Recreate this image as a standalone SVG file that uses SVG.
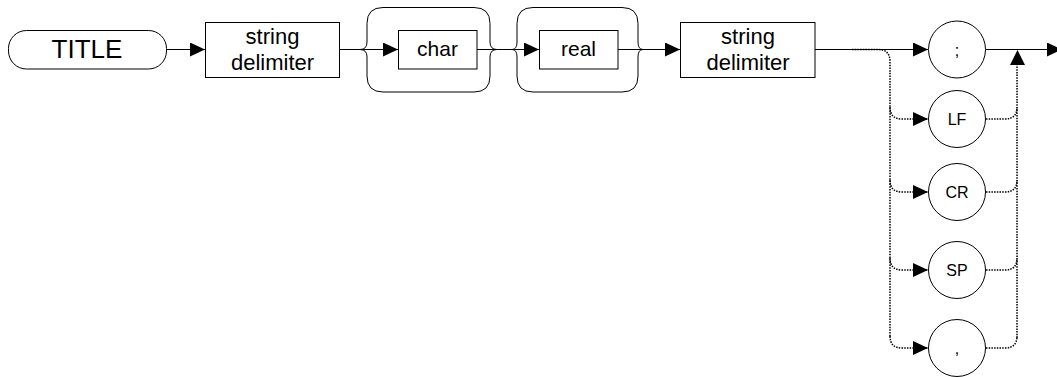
<svg xmlns="http://www.w3.org/2000/svg" width="1057" height="377" viewBox="0 0 1057 377">
<style>
.shape{fill:#fff;stroke:#000;stroke-width:1}
.brace{fill:none;stroke:#000;stroke-width:1}
.t{font-family:"Liberation Sans",Arial,sans-serif;fill:#000;text-anchor:middle}
.line{fill:none;stroke:#000;stroke-width:1}
.dot{fill:none;stroke:#000;stroke-width:1.5;stroke-dasharray:1.5 1.2}
</style>
<defs>
<marker id="arr" markerUnits="userSpaceOnUse" markerWidth="15" markerHeight="14" viewBox="0 0 15 14" refX="15" refY="7" orient="auto">
<path d="M0,0 L15,7 L0,14 Z" fill="#000"/>
</marker>
</defs>
<g id="connectors">
<path class="line" d="M166,49.5 H205" marker-end="url(#arr)"/>
<path class="line" d="M339,49.5 H360"/>
<path class="line" d="M360,49.5 H398" marker-end="url(#arr)"/>
<path class="line" d="M477,49.5 H497"/>
<path class="line" d="M497,49.5 H512"/>
<path class="line" d="M512,49.5 H539" marker-end="url(#arr)"/>
<path class="line" d="M618,49.5 H643"/>
<path class="line" d="M643,49.5 H680" marker-end="url(#arr)"/>
<path class="line" d="M815,49.5 H928" marker-end="url(#arr)"/>
<path class="line" d="M986,49.5 H1062" marker-end="url(#arr)"/>
<path class="dot" d="M852,49.5 H878 Q890,49.5 890,61.5 V338"/>
<path class="dot" d="M890,107 Q890,119 902,119 H928" marker-end="url(#arr)"/>
<path class="dot" d="M890,180 Q890,192 902,192 H928" marker-end="url(#arr)"/>
<path class="dot" d="M890,258 Q890,270 902,270 H928" marker-end="url(#arr)"/>
<path class="dot" d="M890,336 Q890,348 902,348 H928" marker-end="url(#arr)"/>
<path class="dot" d="M986,119 H1005 Q1017,119 1017,107"/>
<path class="dot" d="M986,192 H1005 Q1017,192 1017,180"/>
<path class="dot" d="M986,270 H1005 Q1017,270 1017,258"/>
<path class="dot" d="M986,348 H1005 Q1017,348 1017,336"/>
<path class="dot" d="M1017,338 V64"/>
<path d="M1010,65 L1017.5,50 L1025,65 Z" fill="#000"/>
</g>
<g id="title">
<rect class="shape" x="8.5" y="30.5" width="158" height="38.5" rx="18" ry="18"/>
<text class="t" x="87" y="57.5" font-size="26">TITLE</text>
</g>
<g id="delim1">
<rect class="shape" x="205.5" y="22.5" width="134" height="55"/>
<text class="t" x="272.5" y="43.5" font-size="22">string</text>
<text class="t" x="272.5" y="70" font-size="22">delimiter</text>
</g>
<g id="brace1">
<path class="brace" d="M383,7.5 H474 Q490,7.5 490,23.5 V42 Q490,49.5 497,49.5 Q490,49.5 490,57 V76 Q490,92 474,92 H383 Q367,92 367,76 V57 Q367,49.5 360,49.5 Q367,49.5 367,42 V23.5 Q367,7.5 383,7.5 Z"/>
</g>
<g id="char">
<rect class="shape" x="398.5" y="30.5" width="78.5" height="38.5"/>
<text class="t" x="437.5" y="56" font-size="21">char</text>
</g>
<g id="brace2">
<path class="brace" d="M533,7.5 H622 Q638,7.5 638,23.5 V42 Q638,49.5 643,49.5 Q638,49.5 638,57 V76 Q638,92 622,92 H533 Q517,92 517,76 V57 Q517,49.5 512,49.5 Q517,49.5 517,42 V23.5 Q517,7.5 533,7.5 Z"/>
</g>
<g id="real">
<rect class="shape" x="539.5" y="30.5" width="78.5" height="38.5"/>
<text class="t" x="578.5" y="56" font-size="21">real</text>
</g>
<g id="delim2">
<rect class="shape" x="680.5" y="22.5" width="134.5" height="55"/>
<text class="t" x="748" y="43.5" font-size="22">string</text>
<text class="t" x="748" y="70" font-size="22">delimiter</text>
</g>
<g id="semicolon">
<circle class="shape" cx="957" cy="49.5" r="28.5"/>
<text class="t" x="957" y="55.5" font-size="16">;</text>
</g>
<g id="lf">
<circle class="shape" cx="957" cy="119" r="28.5"/>
<text class="t" x="957" y="125" font-size="16">LF</text>
</g>
<g id="cr">
<circle class="shape" cx="957" cy="192" r="28.5"/>
<text class="t" x="957" y="198" font-size="16">CR</text>
</g>
<g id="sp">
<circle class="shape" cx="957" cy="270" r="28.5"/>
<text class="t" x="957" y="276" font-size="16">SP</text>
</g>
<g id="comma">
<circle class="shape" cx="957" cy="348" r="28.5"/>
<text class="t" x="957" y="354" font-size="16">,</text>
</g>
</svg>
